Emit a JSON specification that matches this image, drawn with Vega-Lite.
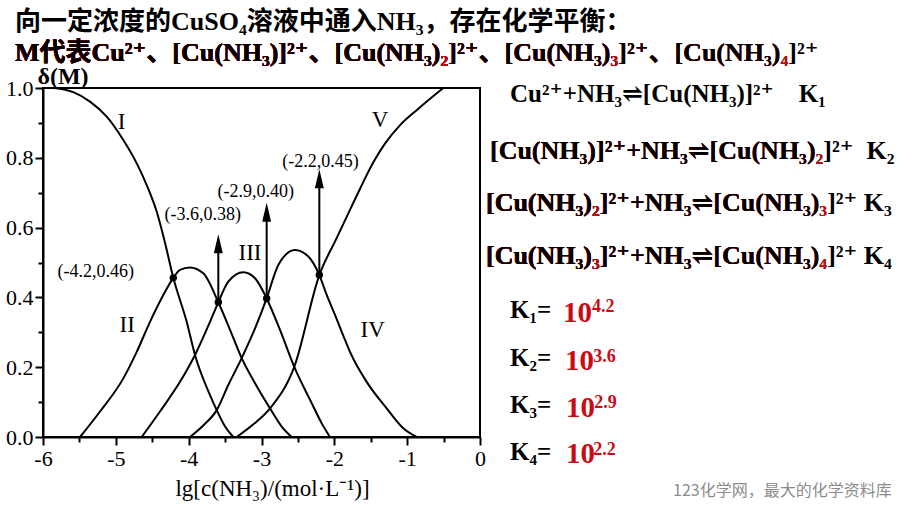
{
  "$schema": "https://vega.github.io/schema/vega-lite/v6.json",
  "autosize": "none",
  "width": 437,
  "height": 349,
  "padding": {"left": 43, "top": 88, "right": 420, "bottom": 69},
  "background": "white",
  "view": {"stroke": "black", "strokeWidth": 2},
  "config": {"font": "Liberation Serif"},
  "datasets": {
    "curves": [
      {"curve": "I", "x": -5.85, "y": 1.0}, {"curve": "I", "x": -5.584, "y": 0.988}, {"curve": "I", "x": -5.355, "y": 0.961}, {"curve": "I", "x": -5.125, "y": 0.918}, {"curve": "I", "x": -4.897, "y": 0.851}, {"curve": "I", "x": -4.713, "y": 0.784}, {"curve": "I", "x": -4.576, "y": 0.722}, {"curve": "I", "x": -4.439, "y": 0.646}, {"curve": "I", "x": -4.329, "y": 0.56}, {"curve": "I", "x": -4.211, "y": 0.456}, {"curve": "I", "x": -4.027, "y": 0.33}, {"curve": "I", "x": -3.913, "y": 0.235}, {"curve": "I", "x": -3.707, "y": 0.12}, {"curve": "I", "x": -3.615, "y": 0.077}, {"curve": "I", "x": -3.5, "y": 0.03}, {"curve": "I", "x": -3.387, "y": 0.0},
      {"curve": "II", "x": -5.492, "y": 0.0}, {"curve": "II", "x": -5.217, "y": 0.073}, {"curve": "II", "x": -4.897, "y": 0.168}, {"curve": "II", "x": -4.713, "y": 0.244}, {"curve": "II", "x": -4.531, "y": 0.33}, {"curve": "II", "x": -4.348, "y": 0.407}, {"curve": "II", "x": -4.211, "y": 0.456}, {"curve": "II", "x": -4.119, "y": 0.479}, {"curve": "II", "x": -3.982, "y": 0.486}, {"curve": "II", "x": -3.799, "y": 0.469}, {"curve": "II", "x": -3.593, "y": 0.386}, {"curve": "II", "x": -3.432, "y": 0.307}, {"curve": "II", "x": -3.272, "y": 0.226}, {"curve": "II", "x": -3.089, "y": 0.154}, {"curve": "II", "x": -2.883, "y": 0.082}, {"curve": "II", "x": -2.723, "y": 0.03}, {"curve": "II", "x": -2.585, "y": 0.0},
      {"curve": "III", "x": -4.645, "y": 0.0}, {"curve": "III", "x": -4.394, "y": 0.073}, {"curve": "III", "x": -4.119, "y": 0.158}, {"curve": "III", "x": -3.913, "y": 0.235}, {"curve": "III", "x": -3.707, "y": 0.33}, {"curve": "III", "x": -3.593, "y": 0.386}, {"curve": "III", "x": -3.456, "y": 0.445}, {"curve": "III", "x": -3.25, "y": 0.472}, {"curve": "III", "x": -3.089, "y": 0.455}, {"curve": "III", "x": -2.929, "y": 0.397}, {"curve": "III", "x": -2.746, "y": 0.307}, {"curve": "III", "x": -2.55, "y": 0.201}, {"curve": "III", "x": -2.311, "y": 0.097}, {"curve": "III", "x": -2.173, "y": 0.039}, {"curve": "III", "x": -2.06, "y": 0.0},
      {"curve": "IV", "x": -3.982, "y": 0.0}, {"curve": "IV", "x": -3.8, "y": 0.033}, {"curve": "IV", "x": -3.615, "y": 0.077}, {"curve": "IV", "x": -3.456, "y": 0.149}, {"curve": "IV", "x": -3.272, "y": 0.226}, {"curve": "IV", "x": -3.089, "y": 0.311}, {"curve": "IV", "x": -2.929, "y": 0.397}, {"curve": "IV", "x": -2.769, "y": 0.493}, {"curve": "IV", "x": -2.54, "y": 0.536}, {"curve": "IV", "x": -2.357, "y": 0.517}, {"curve": "IV", "x": -2.206, "y": 0.464}, {"curve": "IV", "x": -2.11, "y": 0.41}, {"curve": "IV", "x": -1.991, "y": 0.35}, {"curve": "IV", "x": -1.853, "y": 0.278}, {"curve": "IV", "x": -1.785, "y": 0.244}, {"curve": "IV", "x": -1.556, "y": 0.158}, {"curve": "IV", "x": -1.281, "y": 0.082}, {"curve": "IV", "x": -1.053, "y": 0.025}, {"curve": "IV", "x": -0.869, "y": 0.0},
      {"curve": "V", "x": -3.341, "y": 0.0}, {"curve": "V", "x": -3.12, "y": 0.035}, {"curve": "V", "x": -2.883, "y": 0.082}, {"curve": "V", "x": -2.55, "y": 0.201}, {"curve": "V", "x": -2.206, "y": 0.464}, {"curve": "V", "x": -1.98, "y": 0.565}, {"curve": "V", "x": -1.85, "y": 0.622}, {"curve": "V", "x": -1.65, "y": 0.71}, {"curve": "V", "x": -1.47, "y": 0.785}, {"curve": "V", "x": -1.3, "y": 0.842}, {"curve": "V", "x": -1.1, "y": 0.893}, {"curve": "V", "x": -0.85, "y": 0.94}, {"curve": "V", "x": -0.504, "y": 1.0}
    ],
    "dots": [
      {"x": -4.211, "y": 0.456}, {"x": -3.593, "y": 0.386}, {"x": -2.929, "y": 0.397}, {"x": -2.206, "y": 0.464}
    ],
    "arrows": [
      {"x": -3.593, "y": 0.386, "yh": 0.554},
      {"x": -2.929, "y": 0.397, "yh": 0.644},
      {"x": -2.206, "y": 0.464, "yh": 0.74}
    ],
    "heads": [
      {"x": -3.593, "y": 0.554},
      {"x": -2.929, "y": 0.644},
      {"x": -2.206, "y": 0.74}
    ],
    "romans": [
      {"t": "I", "x": -4.92, "y": 0.903},
      {"t": "II", "x": -4.843, "y": 0.321},
      {"t": "III", "x": -3.158, "y": 0.526},
      {"t": "IV", "x": -1.473, "y": 0.307},
      {"t": "V", "x": -1.373, "y": 0.908}
    ],
    "notes": [
      {"t": "(-4.2,0.46)", "x": -5.275, "y": 0.474},
      {"t": "(-3.6,0.38)", "x": -3.806, "y": 0.636},
      {"t": "(-2.9,0.40)", "x": -3.078, "y": 0.703},
      {"t": "(-2.2,0.45)", "x": -2.19, "y": 0.789}
    ],
    "rich": [
      {"g": "title", "tone": "ink", "x": -6.384, "y": 1.166, "t": "向一定浓度的CuSO₄溶液中通入NH₃，存在化学平衡："},
      {"g": "title", "tone": "ink", "x": -6.384, "y": 1.077, "t": "M代表Cu²⁺、[Cu(NH₃)]²⁺、[Cu(NH₃)₂]²⁺、[Cu(NH₃)₃]²⁺、[Cu(NH₃)₄]²⁺"},
      {"g": "title", "tone": "red", "x": -6.384, "y": 1.077, "t": "M代表Cu²⁺、[Cu(NH₃)]²⁺、[Cu(NH₃)₂]²⁺、[Cu(NH₃)₃]²⁺、[Cu(NH₃)₄"},
      {"g": "title", "tone": "ink", "x": -6.384, "y": 1.077, "t": "M代表Cu²⁺、[Cu(NH₃)]²⁺、[Cu(NH₃)₂]²⁺、[Cu(NH₃)₃]²⁺、[Cu(NH₃)"},
      {"g": "title", "tone": "red", "x": -6.384, "y": 1.077, "t": "M代表Cu²⁺、[Cu(NH₃)]²⁺、[Cu(NH₃)₂]²⁺、[Cu(NH₃)₃"},
      {"g": "title", "tone": "ink", "x": -6.384, "y": 1.077, "t": "M代表Cu²⁺、[Cu(NH₃)]²⁺、[Cu(NH₃)₂]²⁺、[Cu(NH₃)"},
      {"g": "title", "tone": "red", "x": -6.384, "y": 1.077, "t": "M代表Cu²⁺、[Cu(NH₃)]²⁺、[Cu(NH₃)₂"},
      {"g": "title", "tone": "ink", "x": -6.384, "y": 1.077, "t": "M代表Cu²⁺、[Cu(NH₃)]²⁺、[Cu(NH₃)"},
      {"g": "eq1", "tone": "ink", "x": 0.412, "y": 0.96, "t": "Cu²⁺+NH₃⇌[Cu(NH₃)]²⁺\u00a0\u00a0\u00a0\u00a0K₁"},
      {"g": "eq", "tone": "ink", "x": 0.137, "y": 0.797, "t": "[Cu(NH₃)]²⁺+NH₃⇌[Cu(NH₃)₂]²⁺\u00a0\u00a0K₂"},
      {"g": "eq", "tone": "red", "x": 0.137, "y": 0.797, "t": "[Cu(NH₃)]²⁺+NH₃⇌[Cu(NH₃)₂"},
      {"g": "eq", "tone": "ink", "x": 0.137, "y": 0.797, "t": "[Cu(NH₃)]²⁺+NH₃⇌[Cu(NH₃)"},
      {"g": "eq", "tone": "ink", "x": 0.082, "y": 0.648, "t": "[Cu(NH₃)₂]²⁺+NH₃⇌[Cu(NH₃)₃]²⁺\u00a0K₃"},
      {"g": "eq", "tone": "red", "x": 0.082, "y": 0.648, "t": "[Cu(NH₃)₂]²⁺+NH₃⇌[Cu(NH₃)₃"},
      {"g": "eq", "tone": "ink", "x": 0.082, "y": 0.648, "t": "[Cu(NH₃)₂]²⁺+NH₃⇌[Cu(NH₃)"},
      {"g": "eq", "tone": "red", "x": 0.082, "y": 0.648, "t": "[Cu(NH₃)₂"},
      {"g": "eq", "tone": "ink", "x": 0.082, "y": 0.648, "t": "[Cu(NH₃)"},
      {"g": "eq", "tone": "ink", "x": 0.082, "y": 0.496, "t": "[Cu(NH₃)₃]²⁺+NH₃⇌[Cu(NH₃)₄]²⁺\u00a0K₄"},
      {"g": "eq", "tone": "red", "x": 0.082, "y": 0.496, "t": "[Cu(NH₃)₃]²⁺+NH₃⇌[Cu(NH₃)₄"},
      {"g": "eq", "tone": "ink", "x": 0.082, "y": 0.496, "t": "[Cu(NH₃)₃]²⁺+NH₃⇌[Cu(NH₃)"},
      {"g": "eq", "tone": "red", "x": 0.082, "y": 0.496, "t": "[Cu(NH₃)₃"},
      {"g": "eq", "tone": "ink", "x": 0.082, "y": 0.496, "t": "[Cu(NH₃)"},
      {"g": "k", "tone": "ink", "x": 0.412, "y": 0.341, "t": "K₁="},
      {"g": "k", "tone": "ink", "x": 0.412, "y": 0.203, "t": "K₂="},
      {"g": "k", "tone": "ink", "x": 0.412, "y": 0.069, "t": "K₃="},
      {"g": "k", "tone": "ink", "x": 0.412, "y": -0.066, "t": "K₄="},
      {"g": "ten", "tone": "red", "x": 1.14, "y": 0.33, "t": "10"},
      {"g": "ten", "tone": "red", "x": 1.167, "y": 0.192, "t": "10"},
      {"g": "ten", "tone": "red", "x": 1.181, "y": 0.058, "t": "10"},
      {"g": "ten", "tone": "red", "x": 1.181, "y": -0.075, "t": "10"},
      {"g": "sup", "tone": "red", "x": 1.538, "y": 0.358, "t": "4.2"},
      {"g": "sup", "tone": "red", "x": 1.556, "y": 0.215, "t": "3.6"},
      {"g": "sup", "tone": "red", "x": 1.569, "y": 0.083, "t": "2.9"},
      {"g": "sup", "tone": "red", "x": 1.556, "y": -0.052, "t": "2.2"},
      {"g": "wm", "tone": "gray", "x": 2.65, "y": -0.169, "t": "123化学网，最大的化学资料库"}
    ]
  },
  "encoding": {
    "x": {
      "field": "x", "type": "quantitative",
      "scale": {"domain": [-6, 0], "nice": false, "zero": false},
      "axis": {
        "values": [-6, -5.5, -5, -4.5, -4, -3.5, -3, -2.5, -2, -1.5, -1, -0.5, 0],
        "labelExpr": "datum.value == floor(datum.value) ? (datum.value < 0 ? '-' + abs(datum.value) : '' + datum.value) : ''",
        "tickSize": {"condition": {"test": "datum.value == floor(datum.value)", "value": 8}, "value": 5},
        "tickWidth": 2, "tickColor": "black", "domainColor": "black", "domainWidth": 2,
        "labelFont": "Liberation Serif", "labelFontSize": 22, "labelColor": "black", "labelPadding": 3,
        "labelFlush": false, "labelOverlap": false, "grid": false,
        "title": "lg[c(NH₃)/(mol·L⁻¹)]", "titleFont": "Liberation Serif", "titleFontSize": 23,
        "titleFontWeight": "normal", "titleColor": "black", "titleX": 229, "titleY": 58,
        "titleBaseline": "alphabetic", "titleAlign": "center"
      }
    },
    "y": {
      "field": "y", "type": "quantitative",
      "scale": {"domain": [0, 1], "nice": false, "zero": false},
      "axis": {
        "values": [0, 0.1, 0.2, 0.3, 0.4, 0.5, 0.6, 0.7, 0.8, 0.9, 1.0],
        "labelExpr": "round(datum.value * 10) % 2 == 0 ? format(datum.value, '.1f') : ''",
        "tickSize": {"condition": {"test": "round(datum.value * 10) % 2 == 0", "value": 8}, "value": 5},
        "tickWidth": 2, "tickColor": "black", "domainColor": "black", "domainWidth": 2,
        "labelFont": "Liberation Serif", "labelFontSize": 22, "labelColor": "black", "labelPadding": 2,
        "labelFlush": false, "labelOverlap": false, "grid": false,
        "title": "δ(M)", "titleFont": "Liberation Serif", "titleFontSize": 24, "titleFontWeight": "bold",
        "titleColor": "black", "titleAngle": 0, "titleX": 19.5, "titleY": -5,
        "titleAlign": "center", "titleBaseline": "alphabetic"
      }
    }
  },
  "layer": [
    {
      "data": {"name": "curves"},
      "mark": {"type": "line", "color": "black", "strokeWidth": 2, "interpolate": "monotone"},
      "encoding": {
        "detail": {"field": "curve", "type": "nominal"}
      }
    },
    {
      "data": {"name": "arrows"},
      "mark": {"type": "rule", "color": "black", "strokeWidth": 2},
      "encoding": {
        "y2": {"field": "yh"}
      }
    },
    {
      "data": {"name": "heads"},
      "mark": {"type": "point", "shape": "M0,-1L0.47,1L-0.47,1Z", "filled": true, "color": "black", "opacity": 1, "size": 361, "strokeWidth": 0}
    },
    {
      "data": {"name": "dots"},
      "mark": {"type": "circle", "color": "black", "opacity": 1, "size": 55}
    },
    {
      "data": {"name": "romans"},
      "mark": {"type": "text", "font": "Liberation Serif", "fontSize": 23, "color": "black", "align": "center", "baseline": "middle"},
      "encoding": {
        "text": {"field": "t"}
      }
    },
    {
      "data": {"name": "notes"},
      "mark": {"type": "text", "font": "Liberation Serif", "fontSize": 18, "color": "black", "align": "center", "baseline": "middle"},
      "encoding": {
        "text": {"field": "t"}
      }
    },
    {
      "data": {"name": "rich"},
      "transform": [{"filter": "datum.g == 'title'"}],
      "mark": {"type": "text", "font": "Liberation Serif, DejaVu Serif, Noto Sans CJK SC", "fontSize": 26, "fontWeight": "bold", "align": "left", "baseline": "alphabetic"},
      "encoding": {
        "text": {"field": "t"},
        "color": {"field": "tone", "type": "nominal", "scale": {"domain": ["ink", "red", "gray"], "range": ["#000000", "#cc0a14", "#8c8c8c"]}, "legend": null}
      }
    },
    {
      "data": {"name": "rich"},
      "transform": [{"filter": "datum.g == 'eq1'"}],
      "mark": {"type": "text", "font": "Liberation Serif, DejaVu Serif", "fontSize": 25, "fontWeight": "bold", "align": "left", "baseline": "alphabetic"},
      "encoding": {
        "text": {"field": "t"},
        "color": {"field": "tone", "type": "nominal", "scale": {"domain": ["ink", "red", "gray"], "range": ["#000000", "#cc0a14", "#8c8c8c"]}, "legend": null}
      }
    },
    {
      "data": {"name": "rich"},
      "transform": [{"filter": "datum.g == 'eq'"}],
      "mark": {"type": "text", "font": "Liberation Serif, DejaVu Serif", "fontSize": 26, "fontWeight": "bold", "align": "left", "baseline": "alphabetic"},
      "encoding": {
        "text": {"field": "t"},
        "color": {"field": "tone", "type": "nominal", "scale": {"domain": ["ink", "red", "gray"], "range": ["#000000", "#cc0a14", "#8c8c8c"]}, "legend": null}
      }
    },
    {
      "data": {"name": "rich"},
      "transform": [{"filter": "datum.g == 'k'"}],
      "mark": {"type": "text", "font": "Liberation Serif, DejaVu Serif", "fontSize": 25, "fontWeight": "bold", "align": "left", "baseline": "alphabetic"},
      "encoding": {
        "text": {"field": "t"},
        "color": {"field": "tone", "type": "nominal", "scale": {"domain": ["ink", "red", "gray"], "range": ["#000000", "#cc0a14", "#8c8c8c"]}, "legend": null}
      }
    },
    {
      "data": {"name": "rich"},
      "transform": [{"filter": "datum.g == 'ten'"}],
      "mark": {"type": "text", "font": "Liberation Serif", "fontSize": 29, "fontWeight": "bold", "align": "left", "baseline": "alphabetic"},
      "encoding": {
        "text": {"field": "t"},
        "color": {"field": "tone", "type": "nominal", "scale": {"domain": ["ink", "red", "gray"], "range": ["#000000", "#cc0a14", "#8c8c8c"]}, "legend": null}
      }
    },
    {
      "data": {"name": "rich"},
      "transform": [{"filter": "datum.g == 'sup'"}],
      "mark": {"type": "text", "font": "Liberation Serif", "fontSize": 18, "fontWeight": "bold", "align": "left", "baseline": "alphabetic"},
      "encoding": {
        "text": {"field": "t"},
        "color": {"field": "tone", "type": "nominal", "scale": {"domain": ["ink", "red", "gray"], "range": ["#000000", "#cc0a14", "#8c8c8c"]}, "legend": null}
      }
    },
    {
      "data": {"name": "rich"},
      "transform": [{"filter": "datum.g == 'wm'"}],
      "mark": {"type": "text", "font": "Noto Sans CJK SC", "fontSize": 16, "align": "left", "baseline": "alphabetic"},
      "encoding": {
        "text": {"field": "t"},
        "color": {"field": "tone", "type": "nominal", "scale": {"domain": ["ink", "red", "gray"], "range": ["#000000", "#cc0a14", "#8c8c8c"]}, "legend": null}
      }
    }
  ]
}
